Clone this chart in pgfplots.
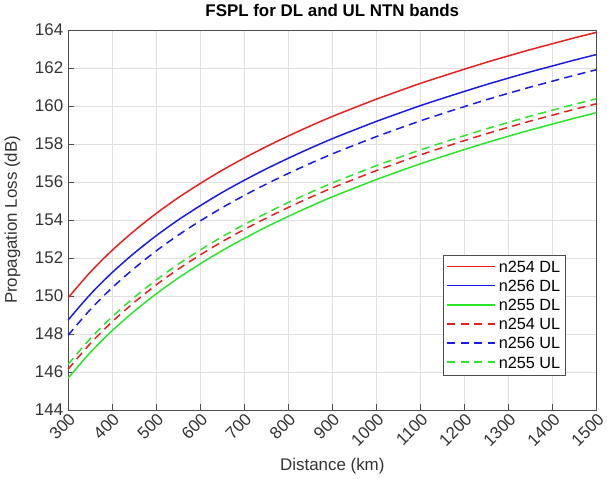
\documentclass[border=0pt]{standalone}
\usepackage{pgfplots}
\pgfplotsset{compat=1.18}
\usepackage{pgfplotstable}
\usepackage{fontspec}
\setmainfont{Liberation Sans}

% FSPL (dB) vs distance (km)
% cols: n254 DL, n256 DL, n255 DL, n254 UL, n256 UL, n255 UL
\pgfplotstableread{
d    a      b      c      u      e      f
300  149.89 148.72 145.66 146.13 147.92 146.39
350  151.23 150.06 147.00 147.47 149.26 147.73
400  152.39 151.22 148.16 148.63 150.42 148.89
450  153.41 152.24 149.18 149.65 151.44 149.91
500  154.33 153.16 150.10 150.57 152.36 150.83
550  155.16 153.99 150.93 151.40 153.19 151.66
600  155.91 154.74 151.68 152.15 153.94 152.41
650  156.61 155.44 152.38 152.85 154.64 153.11
700  157.25 156.08 153.02 153.49 155.28 153.75
750  157.85 156.68 153.62 154.09 155.88 154.35
800  158.41 157.24 154.18 154.65 156.44 154.91
850  158.94 157.77 154.71 155.18 156.97 155.44
900  159.44 158.27 155.21 155.68 157.47 155.94
950  159.90 158.73 155.67 156.14 157.93 156.40
1000 160.35 159.18 156.12 156.59 158.38 156.85
1050 160.77 159.60 156.54 157.01 158.80 157.27
1100 161.18 160.01 156.95 157.42 159.21 157.68
1150 161.56 160.39 157.33 157.80 159.59 158.06
1200 161.93 160.76 157.70 158.17 159.96 158.43
1250 162.29 161.12 158.06 158.53 160.32 158.79
1300 162.63 161.46 158.40 158.87 160.66 159.13
1350 162.96 161.79 158.73 159.20 160.99 159.46
1400 163.27 162.10 159.04 159.51 161.30 159.77
1450 163.58 162.41 159.35 159.82 161.61 160.08
1500 163.87 162.70 159.64 160.11 161.90 160.37
}\fspl

\definecolor{mred}{RGB}{235,30,30}
\definecolor{mblue}{RGB}{25,25,235}
\definecolor{mgreen}{RGB}{40,230,40}

\begin{document}
\begin{tikzpicture}
\begin{axis}[
    width=13.73cm, height=9.87cm,
    scale only axis,
    xmin=300, xmax=1500,
    ymin=144, ymax=164,
    xtick={300,400,...,1500},
    ytick={144,146,...,164},
    grid=major,
    grid style={gray!25, line width=0.4pt},
    axis line style={black!70},
    tick style={black!70},
    tick align=inside,
    xtick pos=bottom, ytick pos=left,
    tick label style={font=\fontsize{12.5}{14}\selectfont, text=black!80},
    /pgf/number format/assume math mode=true,
    /pgf/number format/1000 sep={},
    xticklabel style={rotate=45, anchor=north east, inner sep=1pt},
    xlabel={Distance (km)},
    ylabel={Propagation Loss (dB)},
    xlabel style={yshift=-3pt},
    ylabel style={yshift=4pt},
    label style={font=\fontsize{12.5}{14}\selectfont, text=black!80},
    title={\textbf{FSPL for DL and UL NTN bands}},
    title style={font=\fontsize{12.5}{14}\selectfont, yshift=0pt},
    legend style={at={(0.942,0.407)}, anchor=north east,
        font=\fontsize{12}{14}\selectfont, draw=black!70,
        row sep=0.3pt, inner sep=2pt},
    legend cell align=left,
    legend image code/.code={\draw[#1, line width=1.3pt] (0cm,0.03cm) -- (1.25cm,0.03cm);},
]
\addplot[mred, line width=1.1pt, smooth] table[x=d, y=a] {\fspl};
\addplot[mblue, line width=1.1pt, smooth] table[x=d, y=b] {\fspl};
\addplot[mgreen, line width=1.1pt, smooth] table[x=d, y=c] {\fspl};
\addplot[mred, line width=1.1pt, smooth, dash pattern=on 6pt off 4pt] table[x=d, y=u] {\fspl};
\addplot[mblue, line width=1.1pt, smooth, dash pattern=on 6pt off 4pt] table[x=d, y=e] {\fspl};
\addplot[mgreen, line width=1.1pt, smooth, dash pattern=on 6pt off 4pt] table[x=d, y=f] {\fspl};
\legend{n254 DL, n256 DL, n255 DL, n254 UL, n256 UL, n255 UL}
\end{axis}
\end{tikzpicture}
\end{document}
